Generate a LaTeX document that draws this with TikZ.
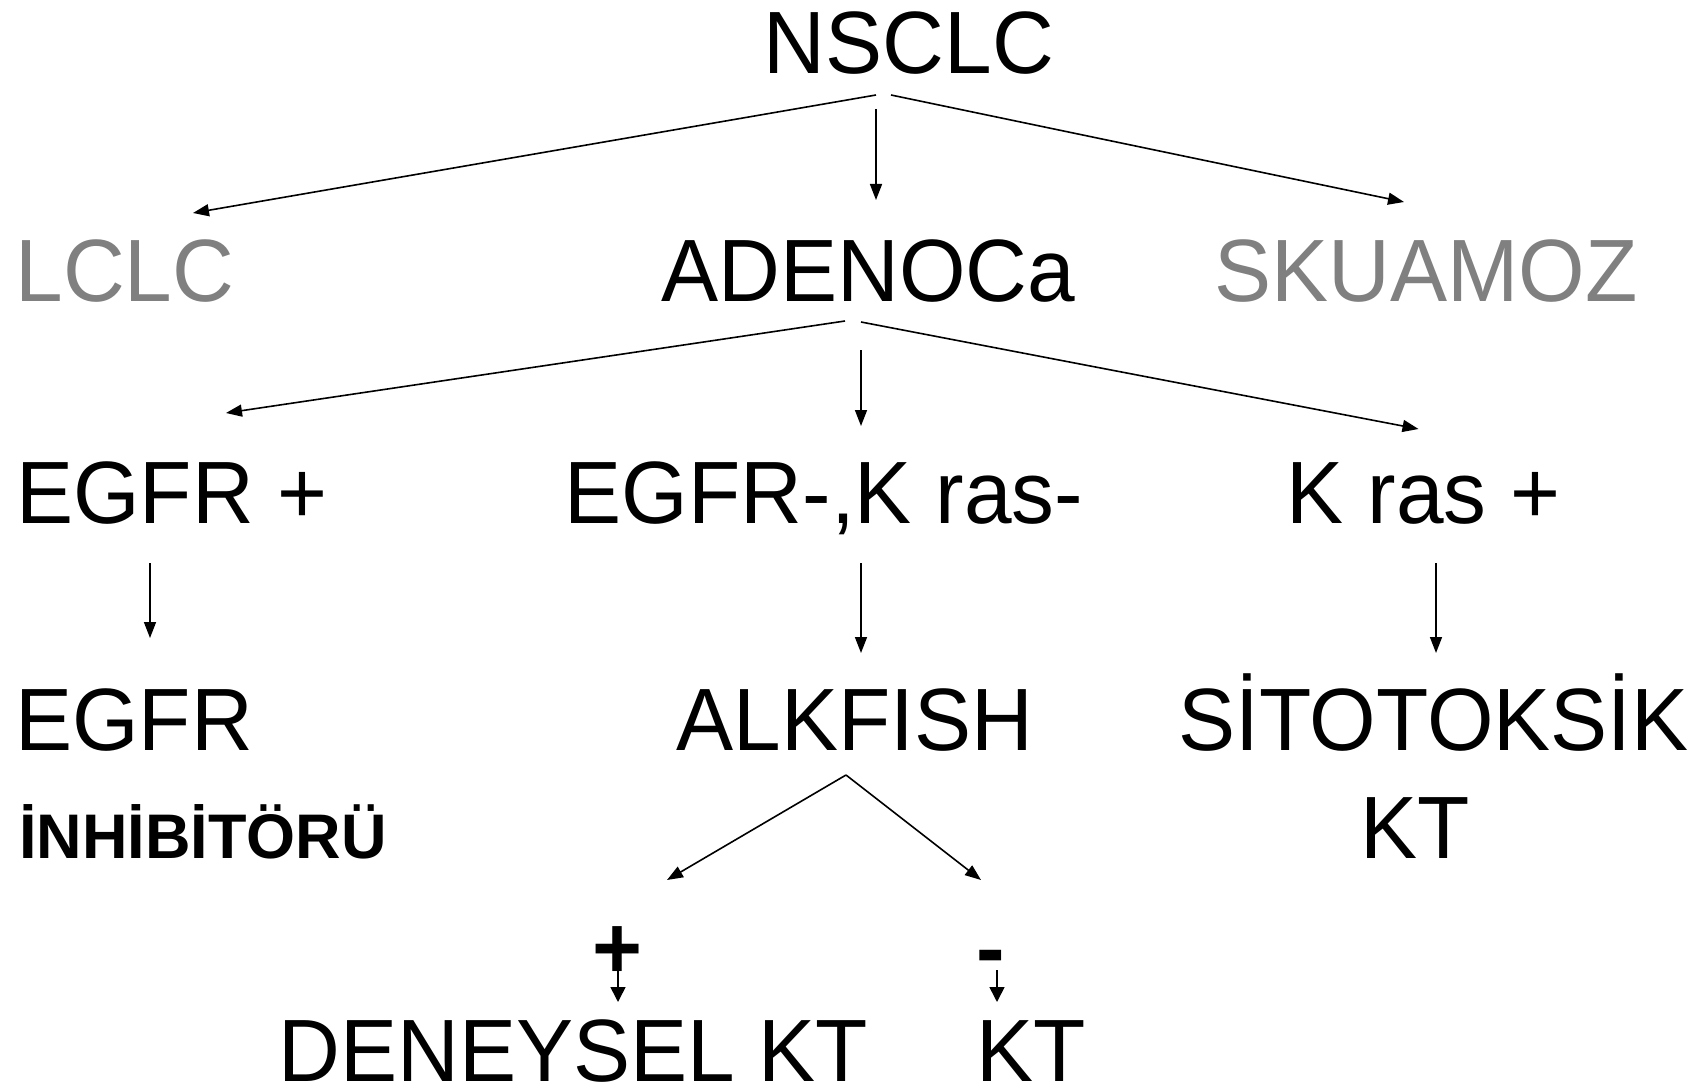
\documentclass[tikz,border=0pt]{standalone}
\usepackage{fontspec}
\setmainfont{Liberation Sans}[FakeStretch=0.967]
\newfontfamily\heavyfont{Liberation Sans}[FakeStretch=1.0]
\usetikzlibrary{arrows.meta,calc}
\definecolor{dimtext}{RGB}{128,128,128}
\tikzset{
  lbl/.style={inner sep=0pt, anchor=base, text depth=0pt, font=\fontsize{44.25}{50}\selectfont},
  lblbold/.style={inner sep=0pt, anchor=base, text depth=0pt, font=\heavyfont\fontsize{31.5}{36}\selectfont\bfseries},
  sign/.style={inner sep=0pt, anchor=base, text depth=0pt, font=\fontsize{44.25}{50}\selectfont\bfseries},
  arr/.style={line width=0.8pt, -{Triangle[length=8pt,width=6pt]}},
  smallarr/.style={line width=0.8pt, -{Triangle[length=7.5pt,width=7.5pt]}}
}
\begin{document}
\begin{tikzpicture}[x=0.5pt,y=-0.5pt]
\useasboundingbox[fill=white] (0,0) rectangle (1704,1086);

% level 0
\node[lbl] (nsclc) at (909,74) {NSCLC};
% level 1
\node[lbl,text=dimtext] (lclc) at (125,301) {LCLC};
\node[lbl] (adeno) at (868.5,301) {ADENOCa};
\node[lbl,text=dimtext] (skua) at (1426,301) {SKUAMOZ};
% level 2
\node[lbl] (egfrp) at (172,523) {EGFR +};
\node[lbl] (neg) at (824,523) {EGFR-,K ras-};
\node[lbl] (krasp) at (1423.5,523) {K ras +};
% level 3
\node[lbl] (egfr) at (134,750) {EGFR};
\node[lblbold] (inhib) at (203,858) {İNHİBİTÖRÜ};
\node[lbl] (alk) at (855,750) {ALKFISH};
\node[lbl] (sito) at (1433.5,750) {SİTOTOKSİK};
\node[lbl] (sitokt) at (1415.5,858) {KT};
% level 4
\node[sign] (plus) at (617,978) {+};
\node[sign] (minus) at (990.5,978) {-};
\node[lbl] (deney) at (573.5,1081) {DENEYSEL KT};
\node[lbl] (kt) at (1031.5,1081) {KT};

% NSCLC branches
\draw[arr] ($(nsclc.base)+(-33,21)$) -- ($(lclc.base)+(68,-88)$);
\draw[arr] ($(nsclc.base)+(-33,35)$) -- ($(adeno.base)+(7.5,-101)$);
\draw[arr] ($(nsclc.base)+(-18,21)$) -- ($(skua.base)+(-22,-99)$);

% ADENOCa branches
\draw[arr] ($(adeno.base)+(-23.5,20)$) -- ($(egfrp.base)+(54,-110)$);
\draw[arr] ($(adeno.base)+(-7.5,49)$) -- ($(neg.base)+(37,-97)$);
\draw[arr] ($(adeno.base)+(-7.5,21)$) -- ($(krasp.base)+(-5,-94)$);

% treatment lines
\draw[arr] ($(egfrp.base)+(-22,40)$) -- ($(egfr.base)+(16,-112)$);
\draw[arr] ($(neg.base)+(37,40)$) -- ($(alk.base)+(6,-97)$);
\draw[arr] ($(krasp.base)+(12.5,40)$) -- ($(sito.base)+(2.5,-97)$);

% ALK FISH result
\coordinate (apex) at ($(alk.base)+(-9,25)$);
\draw[arr] (apex) -- ($(plus.base)+(50,-98)$);
\draw[arr] (apex) -- ($(minus.base)+(-9.5,-98)$);

\draw[smallarr] ($(plus.base)+(1,-8)$) -- ($(deney.base)+(44.5,-79)$);
\draw[smallarr] ($(minus.base)+(6.5,-8)$) -- ($(kt.base)+(-34.5,-79)$);
\end{tikzpicture}
\end{document}
